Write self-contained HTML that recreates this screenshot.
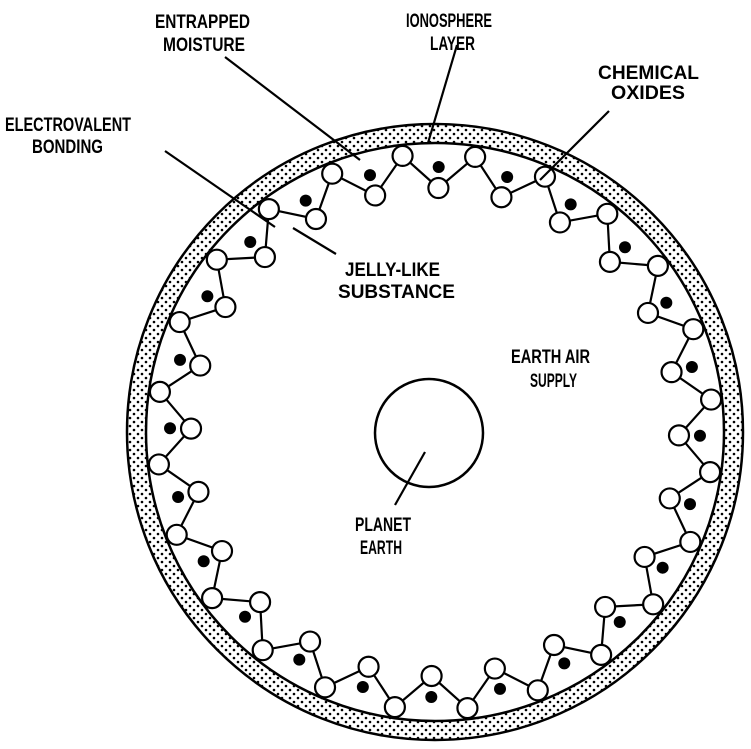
<!DOCTYPE html>
<html><head><meta charset="utf-8"><style>
html,body{margin:0;padding:0;background:#fff}
svg{display:block}
text{font-family:"Liberation Sans",sans-serif;font-size:19px;font-weight:bold;fill:#000}
</style></head><body>
<svg id="s" width="751" height="749" viewBox="0 0 751 749" xmlns="http://www.w3.org/2000/svg">
<defs>
<pattern id="dots" width="8" height="8" patternUnits="userSpaceOnUse">
<circle cx="2" cy="2" r="1.3" fill="#000"/><circle cx="6" cy="6" r="1.3" fill="#000"/>
</pattern>
</defs>
<path d="M127,432 a308,308 0 1,0 616,0 a308,308 0 1,0 -616,0 Z M146,432 a289,289 0 1,0 578,0 a289,289 0 1,0 -578,0 Z" fill="url(#dots)" fill-rule="evenodd"/>
<circle cx="435" cy="432" r="308" fill="none" stroke="#000" stroke-width="2.5"/>
<circle cx="435" cy="432" r="289" fill="none" stroke="#000" stroke-width="2.5"/>
<circle cx="429" cy="433" r="54" fill="none" stroke="#000" stroke-width="2.5"/>
<g id="chain"></g>
<g stroke="#000" stroke-width="2.2">
<line x1="225" y1="57" x2="360" y2="160"/>
<line x1="457" y1="45" x2="428" y2="143"/>
<line x1="609" y1="111" x2="540" y2="180"/>
<line x1="165" y1="151" x2="275" y2="227"/>
<line x1="293" y1="228" x2="336" y2="254"/>
<line x1="425" y1="452" x2="395" y2="505"/>
</g>
<text x="155" y="28" textLength="95" lengthAdjust="spacingAndGlyphs">ENTRAPPED</text>
<text x="163" y="51" textLength="82" lengthAdjust="spacingAndGlyphs">MOISTURE</text>
<text x="406" y="27" textLength="86" lengthAdjust="spacingAndGlyphs">IONOSPHERE</text>
<text x="430" y="50" textLength="45" lengthAdjust="spacingAndGlyphs">LAYER</text>
<text x="598" y="79" textLength="101" lengthAdjust="spacingAndGlyphs">CHEMICAL</text>
<text x="611" y="99" textLength="74" lengthAdjust="spacingAndGlyphs">OXIDES</text>
<text x="5" y="131" textLength="126" lengthAdjust="spacingAndGlyphs">ELECTROVALENT</text>
<text x="32" y="153" textLength="71" lengthAdjust="spacingAndGlyphs">BONDING</text>
<text x="345" y="276" textLength="95" lengthAdjust="spacingAndGlyphs">JELLY-LIKE</text>
<text x="338" y="298" textLength="117" lengthAdjust="spacingAndGlyphs">SUBSTANCE</text>
<text x="511" y="363" textLength="79" lengthAdjust="spacingAndGlyphs">EARTH AIR</text>
<text x="530" y="387" textLength="47" lengthAdjust="spacingAndGlyphs">SUPPLY</text>
<text x="355" y="531" textLength="56" lengthAdjust="spacingAndGlyphs">PLANET</text>
<text x="360" y="554" textLength="42" lengthAdjust="spacingAndGlyphs">EARTH</text>
</svg>
<script>
(function(){
var g=document.getElementById('chain');
var cx=435,cy=432,N=24,pts=[],h='';
for(var k=0;k<N;k++){
 var a1=(8.3+15*k)*Math.PI/180,a2=(15.8+15*k)*Math.PI/180;
 pts.push([cx+278*Math.cos(a1),cy+278*Math.sin(a1)]);
 pts.push([cx+244*Math.cos(a2),cy+244*Math.sin(a2)]);
 h+='<circle cx="'+(cx+265*Math.cos(a2))+'" cy="'+(cy+265*Math.sin(a2))+'" r="6" fill="#000"/>';
}
var d='M'+pts.map(function(p){return p[0].toFixed(1)+','+p[1].toFixed(1)}).join(' L')+' Z';
var s='<path d="'+d+'" fill="none" stroke="#000" stroke-width="2.2"/>'+h;
pts.forEach(function(p){s+='<circle cx="'+p[0]+'" cy="'+p[1]+'" r="10" fill="#fff" stroke="#000" stroke-width="2.2"/>';});
g.innerHTML=s;
})();
</script>
</body></html>
